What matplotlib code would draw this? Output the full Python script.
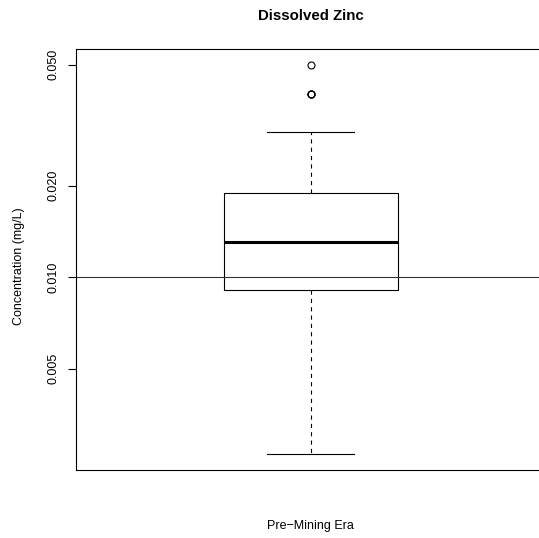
import matplotlib
matplotlib.use("Agg")
import matplotlib.pyplot as plt
import numpy as np

plt.rcParams['font.family'] = ['Liberation Sans', 'DejaVu Sans']
plt.rcParams['lines.scale_dashes'] = False

# Data
group_label = "Pre\u2212Mining Era"
whisker_low = 0.00261
q1 = 0.0091
median = 0.0130
q3 = 0.0189
whisker_high = 0.030
outliers = [0.040, 0.040, 0.040, 0.050]
reference_line = 0.010
ytick_values = [0.005, 0.010, 0.020, 0.050]
ytick_labels = ["0.005", "0.010", "0.020", "0.050"]

W, H = 539, 538
fig = plt.figure(figsize=(W / 100, H / 100), dpi=100)
left_px, right_px, top_px, bottom_px = 75.7, 545.7, 49, 470
ax = fig.add_axes([left_px / W, 1 - bottom_px / H,
                   (right_px - left_px) / W, (bottom_px - top_px) / H])

stats = [dict(med=median, q1=q1, q3=q3, whislo=whisker_low,
              whishi=whisker_high, fliers=outliers, label="")]
ax.bxp(stats, positions=[1], widths=0.445, capwidths=[0.223],
       patch_artist=False, showfliers=True,
       boxprops=dict(color='black', linewidth=0.8),
       medianprops=dict(color='black', linewidth=2.2, solid_capstyle='butt'),
       whiskerprops=dict(color='black', linewidth=0.8, linestyle=(0, (3, 3))),
       capprops=dict(color='black', linewidth=0.8),
       flierprops=dict(marker='o', markersize=5, markerfacecolor='none',
                       markeredgecolor='black', markeredgewidth=0.8))

ax.axhline(reference_line, color='#333333', linewidth=0.8)

ax.set_yscale('log')
lo = np.log10(min([whisker_low] + outliers))
hi = np.log10(max([whisker_high] + outliers))
pad = 0.04 * (hi - lo)
ax.set_ylim(10 ** (lo - pad), 10 ** (hi + pad))
ax.set_xlim(0.4, 1.6)

ax.yaxis.set_minor_locator(matplotlib.ticker.NullLocator())
ax.set_yticks(ytick_values)
ax.set_yticklabels(ytick_labels, rotation=90, va='center', fontsize=9)
ax.tick_params(axis='y', length=6, width=0.8, pad=6)
ax.set_xticks([])
for s in ax.spines.values():
    s.set_linewidth(0.8)
    s.set_color('black')

fig.text(310.7 / W, 1 - 15.5 / H, "Dissolved Zinc", ha='center', va='center',
         fontsize=10.8, fontweight='bold')
fig.text(19 / W, 1 - 266 / H, "Concentration (mg/L)", ha='center', va='center',
         rotation=90, fontsize=9)
fig.text(310.7 / W, 1 - 526 / H, group_label, ha='center', va='center',
         fontsize=9)

fig.savefig("out.png", dpi=100)
